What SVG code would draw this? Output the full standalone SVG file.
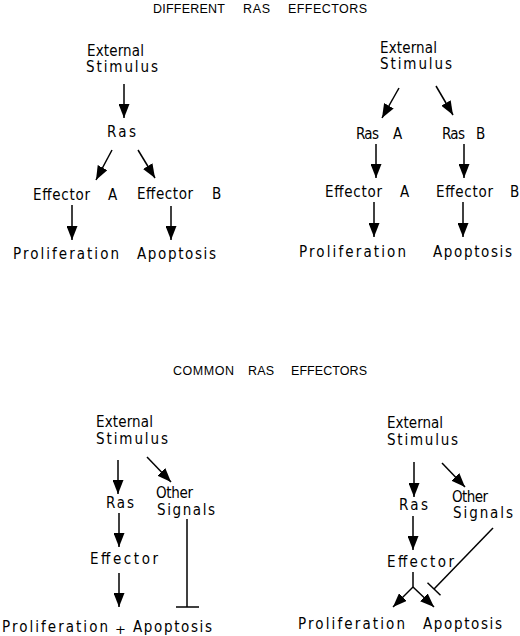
<svg xmlns="http://www.w3.org/2000/svg" width="520" height="636" viewBox="0 0 520 636">
<style>
.t{font-family:"DejaVu Sans Condensed","DejaVu Sans",Verdana,sans-serif;font-stretch:condensed;font-size:15px;fill:#000;}
.h{font-family:"Liberation Sans",Arial,sans-serif;font-size:12.5px;fill:#000;}
.p{font-family:"DejaVu Sans",Verdana,sans-serif;font-size:13px;fill:#000;}
.c line{stroke:#000;stroke-width:1.5;fill:none;}
.a{marker-end:url(#ah);}
</style>
<defs>
<marker id="ah" markerUnits="userSpaceOnUse" markerWidth="15" markerHeight="11" refX="14" refY="5.5" orient="auto">
<path d="M0,0 L14,5.5 L0,11 z" fill="#000"/>
</marker>
</defs>
<rect width="520" height="636" fill="#fff"/>
<g id="title-top">
<text class="h" x="153" y="13" textLength="72">DIFFERENT</text>
<text class="h" x="243" y="13" textLength="27">RAS</text>
<text class="h" x="288" y="13" textLength="79">EFFECTORS</text>
</g>
<g id="title-bottom">
<text class="h" x="173" y="375" textLength="61">COMMON</text>
<text class="h" x="248" y="375" textLength="26">RAS</text>
<text class="h" x="291" y="375" textLength="76">EFFECTORS</text>
</g>
<g id="tl-stimulus"><text class="t" x="87" y="56" textLength="57">External</text><text class="t" x="86" y="72" textLength="72">Stimulus</text></g>
<g id="tl-ras"><text class="t" x="107" y="137" textLength="29">Ras</text></g>
<g id="tl-effA"><text class="t" x="33" y="200" textLength="57">Effector</text><text class="t" x="108" y="200">A</text></g>
<g id="tl-effB"><text class="t" x="137" y="199" textLength="56">Effector</text><text class="t" x="212" y="199">B</text></g>
<g id="tl-prolif"><text class="t" x="13" y="259" textLength="106">Proliferation</text></g>
<g id="tl-apop"><text class="t" x="137" y="259" textLength="79">Apoptosis</text></g>

<g id="tr-stimulus"><text class="t" x="380" y="53" textLength="57">External</text><text class="t" x="380" y="69" textLength="72">Stimulus</text></g>
<g id="tr-rasA"><text class="t" x="356" y="139" textLength="23">Ras</text><text class="t" x="393" y="139">A</text></g>
<g id="tr-rasB"><text class="t" x="442" y="139" textLength="23">Ras</text><text class="t" x="476" y="139">B</text></g>
<g id="tr-effA"><text class="t" x="325" y="197" textLength="57">Effector</text><text class="t" x="400" y="197">A</text></g>
<g id="tr-effB"><text class="t" x="436" y="197" textLength="57">Effector</text><text class="t" x="510" y="197">B</text></g>
<g id="tr-prolif"><text class="t" x="299" y="257" textLength="107">Proliferation</text></g>
<g id="tr-apop"><text class="t" x="433" y="257" textLength="79">Apoptosis</text></g>

<g id="bl-stimulus"><text class="t" x="96" y="427" textLength="57">External</text><text class="t" x="96" y="444" textLength="72">Stimulus</text></g>
<g id="bl-ras"><text class="t" x="106" y="508" textLength="28">Ras</text></g>
<g id="bl-other"><text class="t" x="156" y="498" textLength="37">Other</text><text class="t" x="157" y="515" textLength="58">Signals</text></g>
<g id="bl-effector"><text class="t" x="90" y="564" textLength="68">Effector</text></g>
<g id="bl-outcome"><text class="t" x="2" y="632" textLength="106">Proliferation</text><text class="p" x="115" y="634">+</text><text class="t" x="133" y="632" textLength="79">Apoptosis</text></g>

<g id="br-stimulus"><text class="t" x="387" y="428" textLength="56">External</text><text class="t" x="387" y="445" textLength="71">Stimulus</text></g>
<g id="br-ras"><text class="t" x="399" y="510" textLength="29">Ras</text></g>
<g id="br-other"><text class="t" x="452" y="502" textLength="36">Other</text><text class="t" x="453" y="518" textLength="60">Signals</text></g>
<g id="br-effector"><text class="t" x="387" y="567" textLength="67">Effector</text></g>
<g id="br-prolif"><text class="t" x="298" y="629" textLength="107">Proliferation</text></g>
<g id="br-apop"><text class="t" x="423" y="629" textLength="79">Apoptosis</text></g>

<g id="connectors" class="c">
<line class="a" x1="124" y1="84" x2="124" y2="118"/>
<line class="a" x1="112" y1="150" x2="96" y2="180"/>
<line class="a" x1="138" y1="150" x2="155" y2="178"/>
<line class="a" x1="72" y1="205" x2="72" y2="240"/>
<line class="a" x1="171" y1="206" x2="171" y2="240"/>

<line class="a" x1="399" y1="88" x2="382" y2="118"/>
<line class="a" x1="436" y1="86" x2="453" y2="115"/>
<line class="a" x1="376" y1="144" x2="376" y2="178"/>
<line class="a" x1="464" y1="144" x2="464" y2="178"/>
<line class="a" x1="374" y1="202" x2="374" y2="237"/>
<line class="a" x1="463" y1="202" x2="463" y2="237"/>

<line class="a" x1="118" y1="460" x2="118" y2="494"/>
<line class="a" x1="147" y1="457" x2="171" y2="482"/>
<line class="a" x1="119" y1="513" x2="119" y2="547"/>
<line class="a" x1="119" y1="573" x2="119" y2="607"/>
<line x1="187" y1="519" x2="187" y2="607"/>
<line x1="176" y1="607" x2="199" y2="607"/>

<line class="a" x1="414" y1="462" x2="414" y2="497"/>
<line class="a" x1="442" y1="463" x2="465" y2="487"/>
<line class="a" x1="413" y1="516" x2="413" y2="550"/>
<line x1="413" y1="572" x2="413" y2="587"/>
<line class="a" x1="413" y1="587" x2="393" y2="607"/>
<line class="a" x1="413" y1="587" x2="434" y2="607"/>
<line x1="493" y1="528" x2="434" y2="589"/>
<line x1="427.5" y1="582.7" x2="440.5" y2="595.3"/>
</g>
</svg>
